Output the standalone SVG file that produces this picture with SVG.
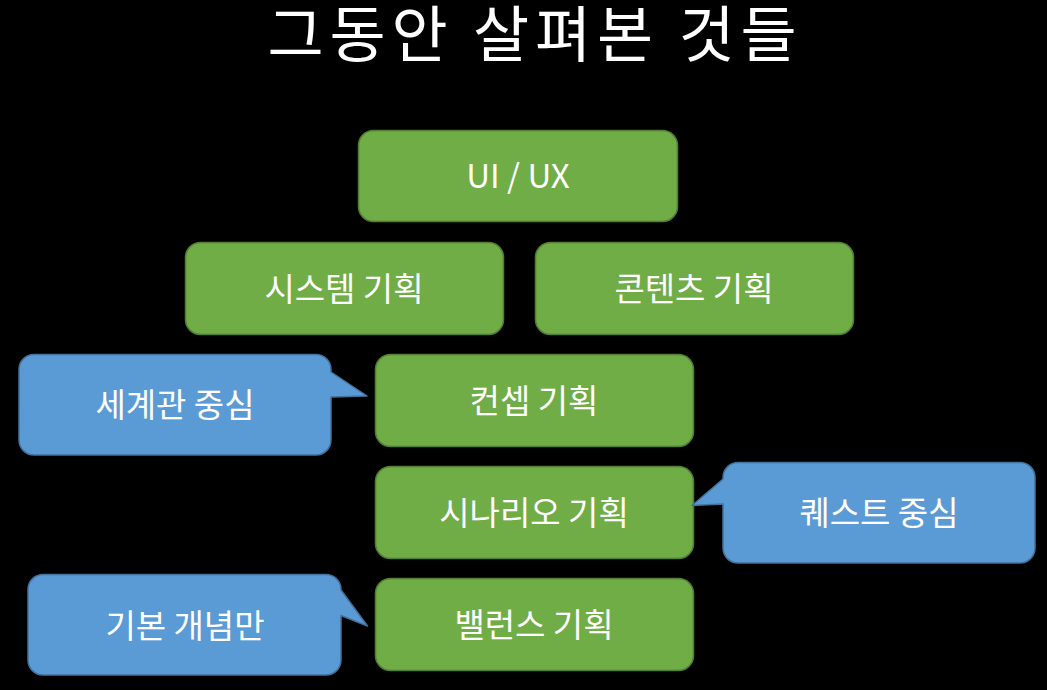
<svg xmlns="http://www.w3.org/2000/svg" width="1047" height="690" viewBox="0 0 1047 690">
<style>
.g{fill:#70AD47;stroke:#507E32;stroke-width:1.5}
.b{fill:#5B9BD5;stroke:#41719C;stroke-width:1.5;stroke-linejoin:round}
.t{fill:#FFFFFF;font-family:"Noto Sans CJK KR","Noto Sans",sans-serif;font-size:33px;text-anchor:middle}
.title{fill:#FFFFFF;font-family:"Noto Sans CJK KR","Noto Sans",sans-serif;font-size:61px;text-anchor:middle}
</style>
<rect x="0" y="0" width="1047" height="690" fill="#000000"/>
<text class="title" x="532" y="57" textLength="529" lengthAdjust="spacing">그동안 살펴본 것들</text>
<g id="connectors"></g>
<g id="uiux"><rect class="g" x="358.5" y="130.5" width="319" height="91" rx="15"/><text class="t" x="518" y="188">UI / UX</text></g>
<g id="system"><rect class="g" x="185.5" y="242.5" width="318" height="92" rx="15"/><text class="t" x="344" y="301">시스템 기획</text></g>
<g id="contents"><rect class="g" x="535.5" y="242.5" width="318" height="92" rx="15"/><text class="t" x="694" y="301">콘텐츠 기획</text></g>
<g id="concept"><rect class="g" x="375.5" y="354.5" width="318" height="92" rx="15"/><text class="t" x="534" y="413">컨셉 기획</text></g>
<g id="scenario"><rect class="g" x="375.5" y="466.5" width="318" height="92" rx="15"/><text class="t" x="534" y="525">시나리오 기획</text></g>
<g id="balance"><rect class="g" x="375.5" y="578.5" width="318" height="92" rx="15"/><text class="t" x="534" y="637">밸런스 기획</text></g>
<g id="callout-world"><path class="b" d="M34,354.5 H316 A15,15 0 0 1 331,369.5 V372 L367,396 L331,397 V440 A15,15 0 0 1 316,455 H34 A15,15 0 0 1 19,440 V369.5 A15,15 0 0 1 34,354.5 Z"/><text class="t" x="175" y="417">세계관 중심</text></g>
<g id="callout-quest"><path class="b" d="M738,462.5 H1020 A15,15 0 0 1 1035,477.5 V548 A15,15 0 0 1 1020,563 H738 A15,15 0 0 1 723,548 V504 L692,505.5 L723,479 V477.5 A15,15 0 0 1 738,462.5 Z"/><text class="t" x="879" y="525">퀘스트 중심</text></g>
<g id="callout-basic"><path class="b" d="M43,574.5 H326 A15,15 0 0 1 341,589.5 V590 L367.5,626 L341,615.5 V660 A15,15 0 0 1 326,675 H43 A15,15 0 0 1 28,660 V589.5 A15,15 0 0 1 43,574.5 Z"/><text class="t" x="185" y="638">기본 개념만</text></g>
</svg>
